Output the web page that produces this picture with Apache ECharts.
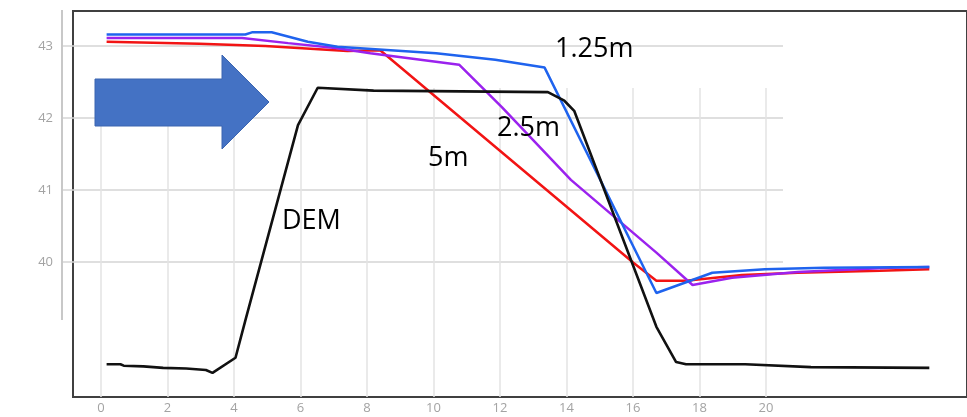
<!DOCTYPE html>
<html>
<head>
<meta charset="utf-8">
<script src="https://cdn.jsdelivr.net/npm/echarts@6/dist/echarts.min.js"></script>
<style>
html,body{margin:0;padding:0;background:#fff;}
#c{width:967px;height:417px;}
</style>
</head>
<body>
<div id="c"></div>
<script>
// ---- data (distance, elevation) ----
const dem = [[0.18,38.58],[0.6,38.58],[0.7,38.56],[1.3,38.55],[1.9,38.53],[2.6,38.52],[3.2,38.50],[3.4,38.46],[4.1,38.67],[4.4,39.19],[6.0,41.90],[6.6,42.42],[8.3,42.38],[13.6,42.36],[14.1,42.24],[14.4,42.10],[16.9,39.10],[17.5,38.61],[17.8,38.58],[19.6,38.58],[21.6,38.54],[25.2,38.53]];
const res125 = [[0.18,43.16],[4.4,43.16],[4.6,43.19],[5.2,43.19],[6.3,43.06],[7.2,42.99],[10.2,42.90],[12.0,42.81],[13.5,42.70],[16.9,39.57],[18.6,39.85],[20.2,39.90],[22.0,39.92],[25.2,39.93]];
const res25 = [[0.18,43.11],[4.3,43.11],[5.7,43.04],[7.2,42.97],[8.2,42.90],[10.9,42.74],[12.2,42.15],[14.3,41.14],[16.9,40.13],[18.0,39.68],[19.2,39.78],[21.2,39.86],[24.0,39.92],[25.2,39.93]];
const res5 = [[0.18,43.06],[3.0,43.03],[5.0,43.00],[7.5,42.93],[8.5,42.94],[16.2,39.99],[16.9,39.74],[17.8,39.74],[19.5,39.82],[21.2,39.85],[23.7,39.88],[25.2,39.90]];
const seriesNames = ['DEM','1.25m','2.5m','5m'];
const xTicks = [0,20,2];      // min, max, step
const yTicks = [40,43,1];     // min, max, step

const chart = echarts.init(document.getElementById('c'), null, {renderer:'canvas'});
const lbl = {color:'#a3a3a3', fontSize:13, fontFamily:'Open Sans'};
const txt = (t,x,y)=>({type:'text', z:100, x:x, y:y, style:{text:t, fill:'#000', font:'27px "Open Sans"', verticalAlign:'middle', align:'left'}});
chart.setOption({
  animation:false,
  grid:[
    {left:62, right:184, top:46, bottom:155},
    {left:101, right:201, top:88, bottom:20},
    {left:73, right:-10, top:11, bottom:20, show:true, borderColor:'#404040', borderWidth:2, backgroundColor:'transparent'}
  ],
  xAxis:[
    {gridIndex:0, type:'value', show:false, min:0, max:1},
    {gridIndex:1, type:'value', min:xTicks[0], max:xTicks[1], interval:xTicks[2],
     axisLine:{show:false}, axisTick:{show:false}, axisLabel:Object.assign({margin:5},lbl),
     splitLine:{show:true, lineStyle:{color:'#e3e3e3', width:1.5}}},
    {gridIndex:2, type:'value', show:false, min:(73-101)/33.25, max:(977-101)/33.25}
  ],
  yAxis:[
    {gridIndex:0, type:'value', min:yTicks[0], max:yTicks[1], interval:yTicks[2],
     axisLine:{show:false}, axisTick:{show:false}, axisLabel:Object.assign({margin:9},lbl),
     splitLine:{show:true, lineStyle:{color:'#d4d4d4', width:1.5}}},
    {gridIndex:1, type:'value', show:false, min:0, max:1},
    {gridIndex:2, type:'value', show:false, min:43-(397-46)/72, max:43+(46-11)/72}
  ],
  series:[
    {name:seriesNames[1], type:'line', xAxisIndex:2, yAxisIndex:2, data:res125, symbol:'none', lineStyle:{color:'#1f63ee', width:2.5}, z:5},
    {name:seriesNames[2], type:'line', xAxisIndex:2, yAxisIndex:2, data:res25, symbol:'none', lineStyle:{color:'#9b22ee', width:2.5}, z:4},
    {name:seriesNames[3], type:'line', xAxisIndex:2, yAxisIndex:2, data:res5, symbol:'none', lineStyle:{color:'#f21414', width:2.5}, z:3},
    {name:seriesNames[0], type:'line', xAxisIndex:2, yAxisIndex:2, data:dem, symbol:'none', lineStyle:{color:'#111', width:2.6}, z:6}
  ],
  graphic:[
    {type:'line', z:50, shape:{x1:62,y1:10,x2:62,y2:320}, style:{stroke:'#c8c8c8', lineWidth:2}},
    {type:'polygon', z:60, shape:{points:[[95,79],[222,79],[222,55],[269,102],[222,149],[222,126],[95,126]]}, style:{fill:'#4472c4', stroke:'#3a64b0', lineWidth:1}},
    txt(seriesNames[1],555,49),
    txt(seriesNames[2],497,128),
    txt(seriesNames[3],428,158),
    txt(seriesNames[0],282,221)
  ]
});
</script>
</body>
</html>
